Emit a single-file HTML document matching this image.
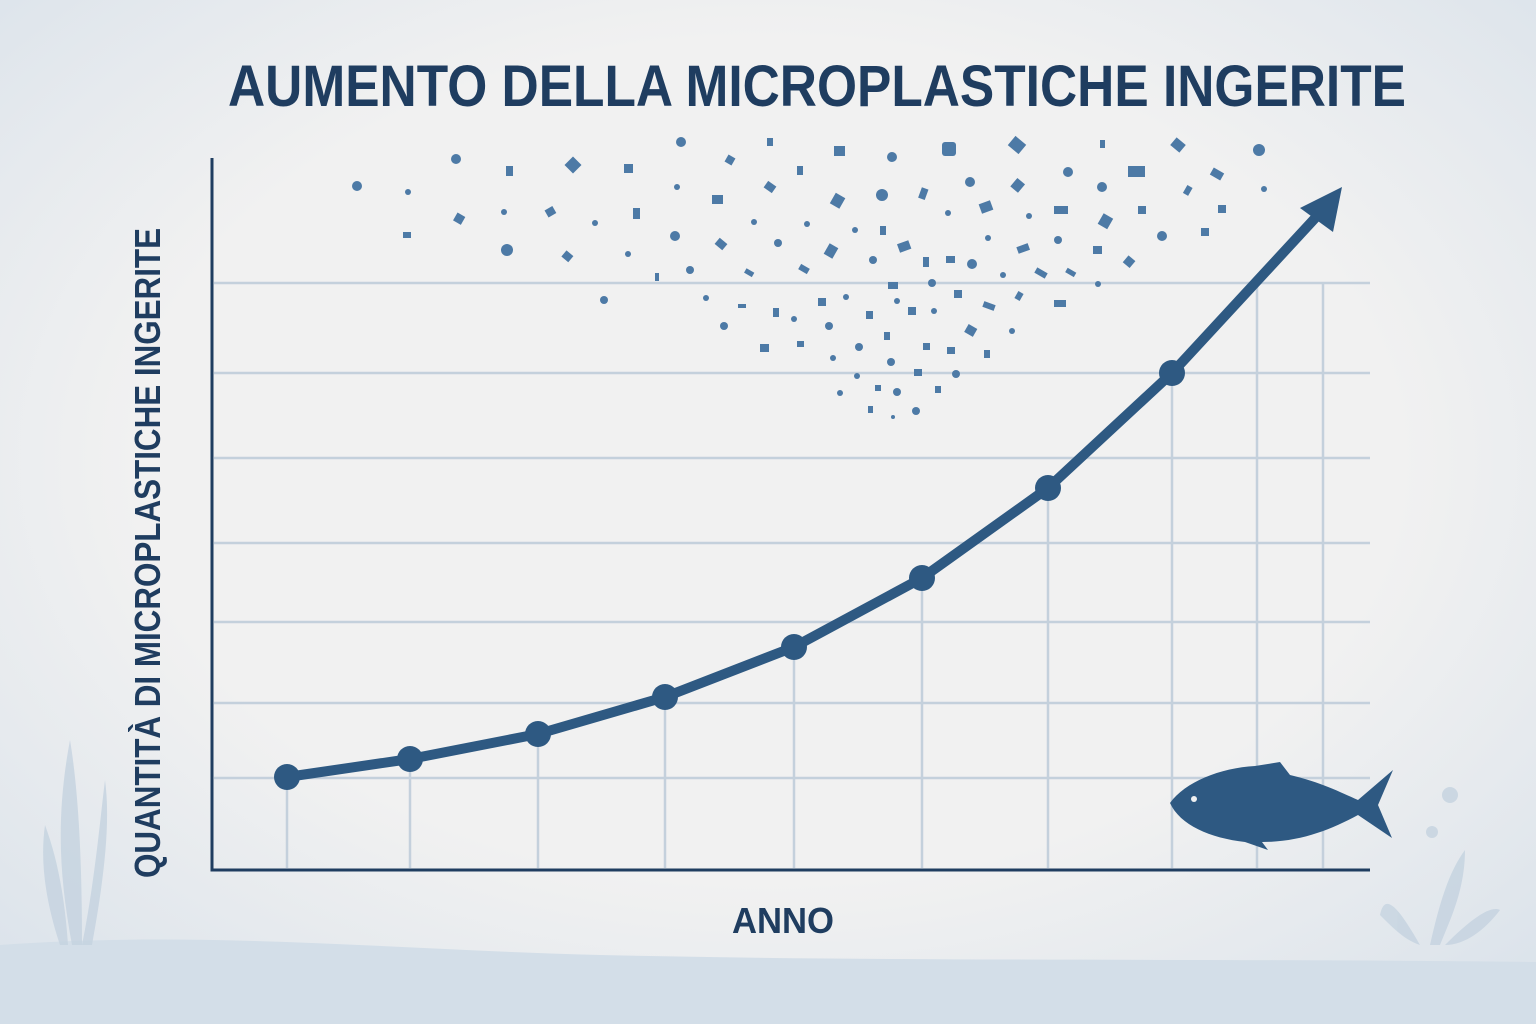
<!DOCTYPE html>
<html><head><meta charset="utf-8"><style>
html,body{margin:0;padding:0;width:1536px;height:1024px;overflow:hidden;background:#eff0f1}
svg{display:block}
text{font-family:"Liberation Sans","DejaVu Sans",sans-serif;font-weight:bold;fill:#1f3d60}
</style></head><body>
<svg width="1536" height="1024" viewBox="0 0 1536 1024">
<defs>
<radialGradient id="bg" cx="50%" cy="45%" r="75%">
<stop offset="0.55" stop-color="#f1f1f1"/><stop offset="1" stop-color="#d8e1ea"/>
</radialGradient>
</defs>
<rect width="1536" height="1024" fill="url(#bg)"/>
<path d="M0 945 C200 930 400 950 600 955 C900 962 1200 958 1536 962 L1536 1024 L0 1024Z" fill="#d3dee8"/>
<g fill="#c5d3e0" opacity="0.8">
<path d="M72 945 C60 880 55 820 70 740 C80 800 82 880 82 945Z"/>
<path d="M82 945 C95 880 100 820 105 780 C112 830 100 900 92 945Z"/>
<path d="M60 945 C45 900 40 860 45 825 C58 860 65 900 68 945Z"/>
<path d="M1420 945 C1400 910 1385 890 1380 915 C1395 930 1405 940 1420 945Z"/>
<path d="M1430 945 C1440 900 1450 870 1465 850 C1465 890 1450 920 1440 945Z"/>
<path d="M1445 945 C1470 920 1490 905 1500 910 C1485 930 1465 945 1445 945Z"/>
<circle cx="1450" cy="795" r="8"/><circle cx="1432" cy="832" r="6"/>
</g>
<text x="228" y="106" font-size="58" textLength="1178" lengthAdjust="spacingAndGlyphs">AUMENTO DELLA MICROPLASTICHE INGERITE</text>
<g stroke="#c4d0dc" stroke-width="2.5" fill="none">
<line x1="214" y1="283" x2="1370" y2="283"/><line x1="214" y1="373" x2="1370" y2="373"/>
<line x1="214" y1="458" x2="1370" y2="458"/><line x1="214" y1="543" x2="1370" y2="543"/>
<line x1="214" y1="622" x2="1370" y2="622"/><line x1="214" y1="703" x2="1370" y2="703"/>
<line x1="214" y1="778" x2="1370" y2="778"/>
<line x1="287" y1="777" x2="287" y2="868"/><line x1="410" y1="759" x2="410" y2="868"/>
<line x1="538" y1="734" x2="538" y2="868"/><line x1="665" y1="697" x2="665" y2="868"/>
<line x1="794" y1="647" x2="794" y2="868"/><line x1="922" y1="578" x2="922" y2="868"/>
<line x1="1048" y1="488" x2="1048" y2="868"/><line x1="1172" y1="373" x2="1172" y2="868"/>
<line x1="1257" y1="283" x2="1257" y2="868"/><line x1="1323" y1="283" x2="1323" y2="868"/>
</g>
<path d="M212 158 L212 870 L1370 870" stroke="#1f3d60" stroke-width="3" fill="none"/>
<g fill="#4d7aa6" id="p">
<circle cx="357" cy="186" r="5"/><circle cx="456" cy="159" r="5"/><circle cx="408" cy="192" r="3"/><rect x="403" y="232" width="8" height="6"/>
<rect x="455" y="214" width="9" height="9" transform="rotate(30 459 218)"/><circle cx="504" cy="212" r="3"/><circle cx="507" cy="250" r="6"/>
<rect x="506" y="166" width="7" height="10"/><rect x="567" y="159" width="12" height="12" transform="rotate(45 573 165)"/><rect x="546" y="208" width="9" height="8" transform="rotate(-30 550 212)"/>
<rect x="563" y="252" width="9" height="8" transform="rotate(40 567 256)"/><circle cx="595" cy="223" r="3"/><circle cx="604" cy="300" r="4"/><rect x="624" y="164" width="9" height="9"/>
<circle cx="681" cy="142" r="5"/><rect x="633" y="208" width="7" height="11"/><circle cx="628" cy="254" r="3"/><circle cx="675" cy="236" r="5"/><circle cx="677" cy="187" r="3"/>
<rect x="655" y="273" width="4" height="8"/><circle cx="690" cy="270" r="4"/><rect x="726" y="156" width="8" height="8" transform="rotate(30 730 160)"/><rect x="712" y="195" width="11" height="9"/>
<rect x="716" y="240" width="10" height="8" transform="rotate(40 721 244)"/><circle cx="754" cy="222" r="3"/><rect x="767" y="138" width="6" height="8"/><rect x="765" y="183" width="10" height="8" transform="rotate(35 770 187)"/>
<rect x="745" y="270" width="9" height="5" transform="rotate(30 749 272)"/><circle cx="706" cy="298" r="3"/><circle cx="724" cy="326" r="4"/><rect x="738" y="304" width="8" height="4"/>
<rect x="773" y="308" width="6" height="9"/><circle cx="778" cy="243" r="4"/><rect x="797" y="166" width="6" height="9"/><rect x="799" y="266" width="10" height="6" transform="rotate(30 804 269)"/>
<circle cx="807" cy="224" r="3"/><rect x="834" y="146" width="11" height="10"/><rect x="832" y="195" width="11" height="12" transform="rotate(30 838 201)"/><circle cx="882" cy="195" r="6"/>
<circle cx="892" cy="157" r="5"/><rect x="826" y="245" width="10" height="12" transform="rotate(30 831 251)"/><circle cx="855" cy="230" r="3"/><rect x="880" y="226" width="6" height="9"/>
<circle cx="873" cy="260" r="4"/><rect x="898" y="242" width="12" height="9" transform="rotate(-20 904 246)"/><rect x="920" y="188" width="7" height="11" transform="rotate(20 923 193)"/>
<rect x="942" y="142" width="14" height="14" rx="3"/><circle cx="970" cy="182" r="5"/><rect x="1010" y="139" width="14" height="12" transform="rotate(40 1017 145)"/><rect x="1013" y="180" width="10" height="11" transform="rotate(40 1018 185)"/>
<circle cx="1068" cy="172" r="5"/><rect x="1100" y="140" width="5" height="8"/><circle cx="1102" cy="187" r="5"/><rect x="1128" y="166" width="17" height="11"/>
<rect x="1172" y="140" width="12" height="10" transform="rotate(40 1178 145)"/><circle cx="1259" cy="150" r="6"/><rect x="1211" y="170" width="12" height="8" transform="rotate(30 1217 174)"/>
<rect x="1185" y="186" width="6" height="9" transform="rotate(30 1188 190)"/><circle cx="1264" cy="189" r="3"/><rect x="1218" y="205" width="8" height="8"/><rect x="1138" y="206" width="8" height="8"/>
<circle cx="1162" cy="236" r="5"/><rect x="1201" y="228" width="8" height="8"/><rect x="1100" y="215" width="11" height="12" transform="rotate(30 1105 221)"/><rect x="1054" y="206" width="14" height="8"/>
<circle cx="1029" cy="216" r="3"/><rect x="980" y="202" width="12" height="10" transform="rotate(-20 986 207)"/><circle cx="948" cy="213" r="3"/><circle cx="1058" cy="240" r="4"/>
<rect x="1093" y="246" width="9" height="8"/><rect x="1017" y="245" width="12" height="7" transform="rotate(-20 1023 248)"/><circle cx="988" cy="238" r="3"/><circle cx="972" cy="264" r="5"/>
<rect x="946" y="256" width="9" height="7"/><rect x="923" y="257" width="6" height="10"/><rect x="1125" y="257" width="9" height="9" transform="rotate(40 1129 261)"/><rect x="1035" y="270" width="12" height="6" transform="rotate(30 1041 273)"/>
<circle cx="1003" cy="275" r="3"/><rect x="1066" y="270" width="10" height="5" transform="rotate(30 1071 272)"/><circle cx="1098" cy="284" r="3"/><rect x="888" y="282" width="10" height="7"/>
<circle cx="932" cy="283" r="4"/><rect x="954" y="290" width="8" height="8"/><circle cx="846" cy="297" r="3"/><circle cx="897" cy="301" r="3"/><rect x="1016" y="292" width="6" height="8" transform="rotate(30 1019 296)"/>
<rect x="1054" y="300" width="12" height="7"/><rect x="983" y="303" width="12" height="6" transform="rotate(20 989 306)"/><circle cx="934" cy="311" r="3"/><rect x="908" y="307" width="8" height="8"/>
<rect x="866" y="311" width="7" height="8"/><rect x="818" y="298" width="8" height="8"/><circle cx="794" cy="319" r="3"/><circle cx="829" cy="326" r="4"/><rect x="797" y="341" width="7" height="6"/>
<rect x="760" y="344" width="9" height="8"/><rect x="884" y="332" width="6" height="8"/><rect x="923" y="343" width="7" height="7"/><rect x="966" y="326" width="10" height="9" transform="rotate(30 971 330)"/>
<circle cx="1012" cy="331" r="3"/><circle cx="859" cy="347" r="4"/><rect x="947" y="347" width="8" height="7"/><rect x="984" y="350" width="6" height="8"/><circle cx="833" cy="358" r="3"/>
<circle cx="891" cy="362" r="4"/><rect x="914" y="369" width="8" height="7"/><circle cx="956" cy="374" r="4"/><circle cx="857" cy="376" r="3"/><rect x="875" y="385" width="6" height="6"/>
<circle cx="897" cy="392" r="4"/><rect x="935" y="386" width="6" height="7"/><circle cx="840" cy="393" r="3"/><rect x="868" y="406" width="5" height="7"/><circle cx="916" cy="411" r="4"/><circle cx="893" cy="417" r="2"/>
</g>
<polyline points="287,777 410,759 538,734 665,697 794,647 922,578 1048,488 1172,373 1318,215" fill="none" stroke="#2e5982" stroke-width="10" stroke-linejoin="round" stroke-linecap="round"/>
<polygon points="1342,187 1300,208 1333,232" fill="#2e5982"/>
<g fill="#2e5982">
<circle cx="287" cy="777" r="13"/><circle cx="410" cy="759" r="13"/><circle cx="538" cy="734" r="13"/><circle cx="665" cy="697" r="13"/>
<circle cx="794" cy="647" r="13"/><circle cx="922" cy="578" r="13"/><circle cx="1048" cy="488" r="13"/><circle cx="1172" cy="373" r="13"/>
</g>
<path d="M1170 803 C1185 782 1220 768 1255 766 L1280 762 L1290 775 C1320 782 1340 792 1358 800 L1393 770 L1378 805 L1392 838 L1358 815 C1330 830 1300 842 1262 842 L1268 850 L1245 842 C1210 838 1180 825 1170 803Z" fill="#2e5982"/>
<circle cx="1194" cy="799" r="3" fill="#eff0f1"/>
<text x="0" y="0" font-size="36" transform="translate(160 878) rotate(-90)" textLength="650" lengthAdjust="spacingAndGlyphs">QUANTITÀ DI MICROPLASTICHE INGERITE</text>
<text x="783" y="933" font-size="36" text-anchor="middle" textLength="102" lengthAdjust="spacingAndGlyphs">ANNO</text>
</svg>
</body></html>
